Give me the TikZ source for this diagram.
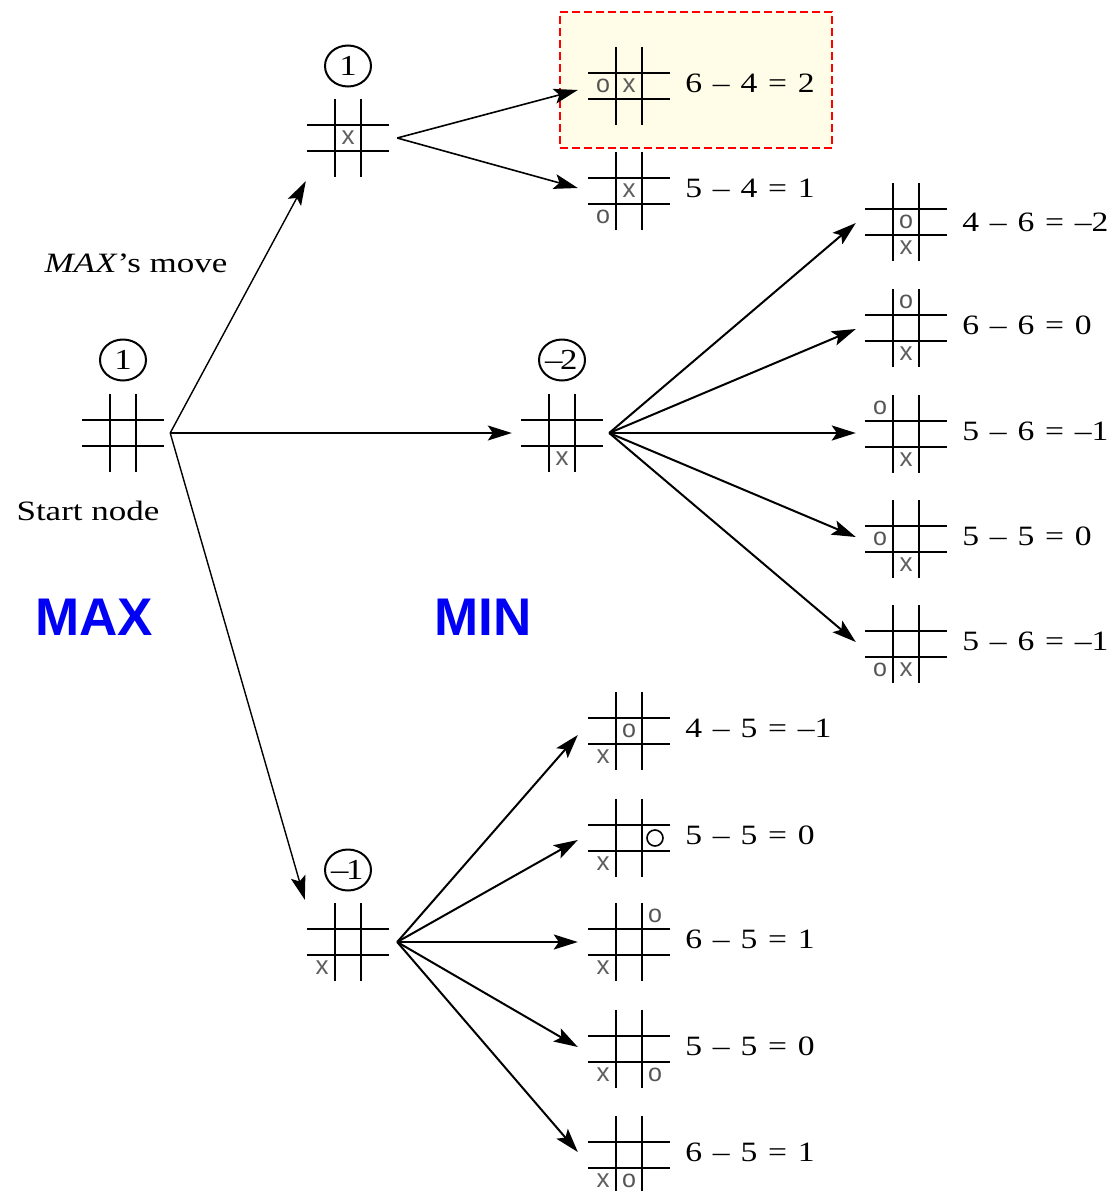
\documentclass[tikz,border=0pt]{standalone}
\usepackage{fontspec}
\usepackage{graphicx}
\setmainfont{Liberation Serif}
\newfontfamily\sansf{Liberation Sans}
\usetikzlibrary{calc,arrows.meta,shapes.geometric,positioning}
\newcommand\sx[1]{\scalebox{1.2}[1]{#1}}
\definecolor{hlfill}{RGB}{255,253,232}
\definecolor{markgray}{RGB}{95,95,95}
\definecolor{maxblue}{RGB}{0,0,245}
\tikzset{
  board/.style={minimum width=82pt,minimum height=78pt,inner sep=0pt,
    path picture={
      \draw[line width=2.8pt,black]
        ($(path picture bounding box.west)+(0,-13)$) -- ($(path picture bounding box.east)+(0,-13)$)
        ($(path picture bounding box.west)+(0,13)$) -- ($(path picture bounding box.east)+(0,13)$)
        ($(path picture bounding box.north)+(-13,0)$) -- ($(path picture bounding box.south)+(-13,0)$)
        ($(path picture bounding box.north)+(13,0)$) -- ($(path picture bounding box.south)+(13,0)$);
    }},
  val/.style={ellipse,draw,line width=2pt,minimum width=46pt,minimum height=41pt,inner sep=0pt,
    font=\fontsize{29}{29}\selectfont},
  xmark/.style={inner sep=0pt,text=markgray,font=\sansf\fontsize{26}{26}\selectfont},
  omark/.style={inner sep=0pt,text=markgray!90!black,font=\sansf\fontsize{25}{25}\selectfont},
  lbl/.style={inner sep=0pt,anchor=west,font=\fontsize{28}{28}\selectfont},
  txt/.style={inner sep=0pt,font=\fontsize{28}{28}\selectfont},
  big/.style={inner sep=0pt,text=maxblue,font=\sansf\bfseries\fontsize{53}{53}\selectfont},
  arr/.style={line width=1.6pt,-{Stealth[length=24pt,width=15pt,inset=5pt]}},
  hl/.style={draw=red,dash pattern=on 8pt off 4pt,line width=1.8pt,fill=hlfill}
}
\newcommand\mx[3]{\node[xmark] (#1-x) at ($(#1)+(#2*26,#3*26)$) {x};}
\newcommand\mo[3]{\node[omark] (#1-o) at ($(#1)+(#2*26,#3*26)$) {o};}
\newcommand\ws{\hspace{0.32em}}
\begin{document}
\begin{tikzpicture}[x=1pt,y=-1pt]
\useasboundingbox[fill=white] (0,0) rectangle (1111,1191);
% highlight box
\node[hl,minimum width=272pt,minimum height=136pt,inner sep=0pt] (hlbox) at (696,80) {};
% main boards
\node[board] (s) at (123,433) {};
\node[board] (a) at (348,138) {};
\node[board] (b) at (562,433) {};
\node[board] (c) at (348,942) {};
% values
\node[val] (sv) at (123,360) {\sx{1}};
\node[val] (av) at (348,66) {\sx{1}};
\node[val] (bv) at (562,360) {\sx{\kern-1pt–\kern-2pt2}};
\node[val] (cv) at (348,870) {\sx{\kern-1pt–\kern-2pt1}};
% leaf boards
\node[board] (a1) at (629,86) {};
\node[board] (a2) at (629,191) {};
\node[board] (b1) at (906,222) {};
\node[board] (b2) at (906,328) {};
\node[board] (b3) at (906,434) {};
\node[board] (b4) at (906,539) {};
\node[board] (b5) at (906,644) {};
\node[board] (c1) at (629,731) {};
\node[board] (c2) at (629,838) {};
\node[board] (c3) at (629,942) {};
\node[board] (c4) at (629,1049) {};
\node[board] (c5) at (629,1155) {};
% marks
\mx{a}{0}{0}
\mx{b}{0}{1}
\mx{c}{-1}{1}
\mx{a1}{0}{0}\mo{a1}{-1}{0}
\mx{a2}{0}{0}\mo{a2}{-1}{1}
\mx{b1}{0}{1}\mo{b1}{0}{0}
\mx{b2}{0}{1}\mo{b2}{0}{-1}
\mx{b3}{0}{1}\mo{b3}{-1}{-1}
\mx{b4}{0}{1}\mo{b4}{-1}{0}
\mx{b5}{0}{1}\mo{b5}{-1}{1}
\mx{c1}{-1}{1}\mo{c1}{0}{0}
\mx{c2}{-1}{1}\draw[line width=1.6pt] ($(c2)+(26,0)$) circle (8pt);
\mx{c3}{-1}{1}\mo{c3}{1}{-1}
\mx{c4}{-1}{1}\mo{c4}{1}{1}
\mx{c5}{-1}{1}\mo{c5}{0}{1}
% labels
\node[lbl] (a1l) at ($(a1.east)+(15,-3)$) {\sx{6\ws–\ws4\ws=\ws2}};
\node[lbl] (a2l) at ($(a2.east)+(15,-3)$) {\sx{5\ws–\ws4\ws=\ws1}};
\node[lbl] (b1l) at ($(b1.east)+(15,0)$) {\sx{4\ws–\ws6\ws=\ws–2}};
\node[lbl] (b2l) at ($(b2.east)+(15,-3)$) {\sx{6\ws–\ws6\ws=\ws0}};
\node[lbl] (b3l) at ($(b3.east)+(15,-3)$) {\sx{5\ws–\ws6\ws=\ws–1}};
\node[lbl] (b4l) at ($(b4.east)+(15,-3)$) {\sx{5\ws–\ws5\ws=\ws0}};
\node[lbl] (b5l) at ($(b5.east)+(15,-3)$) {\sx{5\ws–\ws6\ws=\ws–1}};
\node[lbl] (c1l) at ($(c1.east)+(15,-3)$) {\sx{4\ws–\ws5\ws=\ws–1}};
\node[lbl] (c2l) at ($(c2.east)+(15,-3)$) {\sx{5\ws–\ws5\ws=\ws0}};
\node[lbl] (c3l) at ($(c3.east)+(15,-3)$) {\sx{6\ws–\ws5\ws=\ws1}};
\node[lbl] (c4l) at ($(c4.east)+(15,-3)$) {\sx{5\ws–\ws5\ws=\ws0}};
\node[lbl] (c5l) at ($(c5.east)+(15,-3)$) {\sx{6\ws–\ws5\ws=\ws1}};
% texts
\node[txt] (move) at (136,263) {\scalebox{1.25}[1]{\textit{MAX}’s move}};
\node[txt] (startl) at (88,511) {\scalebox{1.25}[1]{Start node}};
\node[big] (maxl) at (94,617) {MAX};
\node[big] (minl) at (483,617) {MIN};
% arrow origins
\coordinate (so) at ($(s.east)+(6,0)$);
\coordinate (ao) at ($(a.east)+(8,0)$);
\coordinate (bo) at ($(b.east)+(6,0)$);
\coordinate (co) at ($(c.east)+(8,0)$);
% arrows
\draw[arr,line width=1.4pt] (so) -- ($(a.south west)+(-1,4)$);
\draw[arr,line width=1.4pt] (so) -- ($(b.west)+(-9,0)$);
\draw[arr,line width=1.4pt] (so) -- ($(c.north west)+(-2,-3)$);
\draw[arr] (ao) -- ($(a1.west)+(-10,4)$);
\draw[arr] (ao) -- ($(a2.west)+(-10,-3)$);
\foreach \n/\dy in {b1/1,b2/1,b3/-1,b4/-2,b5/-2}{
  \draw[arr,line width=2pt] (bo) -- ($(\n.west)+(-9,\dy)$);
}
\foreach \n/\dy in {c1/4,c2/2,c3/0,c4/-2,c5/-3}{
  \draw[arr,line width=2pt] (co) -- ($(\n.west)+(-10,\dy)$);
}
\end{tikzpicture}
\end{document}
